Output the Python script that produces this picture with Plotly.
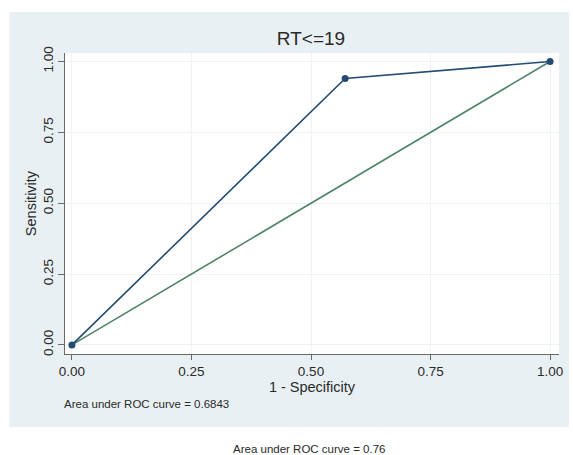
import plotly.graph_objects as go

# Data
roc_x = [0.0, 0.5714, 1.0]
roc_y = [0.0, 0.94, 1.0]
ref_x = [0.0, 1.0]
ref_y = [0.0, 1.0]
tick_vals = [0.0, 0.25, 0.5, 0.75, 1.0]
tick_text = ["0.00", "0.25", "0.50", "0.75", "1.00"]
title_text = "RT<=19"
auc_text = "Area under ROC curve = 0.6843"
note_text = "Area under ROC curve = 0.76"

navy = "#244b72"
green = "#4f8468"
panel = "#e9f0f3"
font_family = "Liberation Sans, Arial, sans-serif"
txt = "#2a2a2a"

fig = go.Figure()
fig.add_trace(go.Scatter(x=ref_x, y=ref_y, mode="lines",
                         line=dict(color=green, width=1.6), showlegend=False))
fig.add_trace(go.Scatter(x=roc_x, y=roc_y, mode="lines+markers",
                         line=dict(color=navy, width=1.6),
                         marker=dict(color=navy, size=7), showlegend=False))

L, R, T, B = 65, 10, 53, 101
W, H = 573, 455
pw, ph = W - L - R, H - T - B

def px_x(p):
    return (p - L) / pw

def px_y(p):
    return (H - B - p) / ph

fig.add_shape(type="rect", xref="paper", yref="paper", layer="below",
              x0=px_x(9), x1=px_x(573), y0=px_y(427), y1=px_y(12),
              fillcolor=panel, line=dict(width=0))
fig.add_shape(type="rect", xref="paper", yref="paper", layer="below",
              x0=0, x1=1, y0=0, y1=1,
              fillcolor="white", line=dict(width=0))

fig.update_layout(
    width=W, height=H,
    margin=dict(l=L, r=R, t=T, b=B, pad=0),
    paper_bgcolor="white", plot_bgcolor="white",
    font=dict(family=font_family, color=txt),
    title=dict(text=title_text, x=px_x(313), xref="paper", xanchor="center",
               y=1 - 38 / H, yanchor="middle",
               font=dict(size=19, color=txt)),
    xaxis=dict(range=[-0.0145, 1.0187], tickvals=tick_vals, ticktext=tick_text,
               showgrid=True, gridcolor="#eef3f5", gridwidth=1, zeroline=False,
               showline=True, linecolor="#6a6a6a", linewidth=1,
               ticks="outside", ticklen=5, tickcolor="#6a6a6a",
               tickfont=dict(size=13.5),
               title=dict(text="1 - Specificity", font=dict(size=14.5), standoff=0)),
    yaxis=dict(range=[-0.032, 1.03], tickvals=tick_vals, ticktext=tick_text,
               tickangle=-90,
               showgrid=True, gridcolor="#eef3f5", gridwidth=1, zeroline=False,
               showline=True, linecolor="#6a6a6a", linewidth=1,
               ticks="outside", ticklen=6, tickcolor="#6a6a6a",
               tickfont=dict(size=13.5),
               title=dict(text="Sensitivity", font=dict(size=14.5), standoff=0)),
    annotations=[
        dict(text=auc_text, xref="paper", yref="paper", x=px_x(62), y=px_y(404),
             xanchor="left", yanchor="middle", showarrow=False,
             font=dict(size=11.5, color=txt)),
        dict(text=note_text, xref="paper", yref="paper", x=px_x(311), y=px_y(449),
             xanchor="center", yanchor="middle", showarrow=False,
             font=dict(size=11.5, color=txt)),
    ],
)

fig.write_html("out.html",
               config={"displayModeBar": False},
               post_script="document.body.style.margin='0';document.body.style.overflow='hidden';document.documentElement.style.overflow='hidden';")
